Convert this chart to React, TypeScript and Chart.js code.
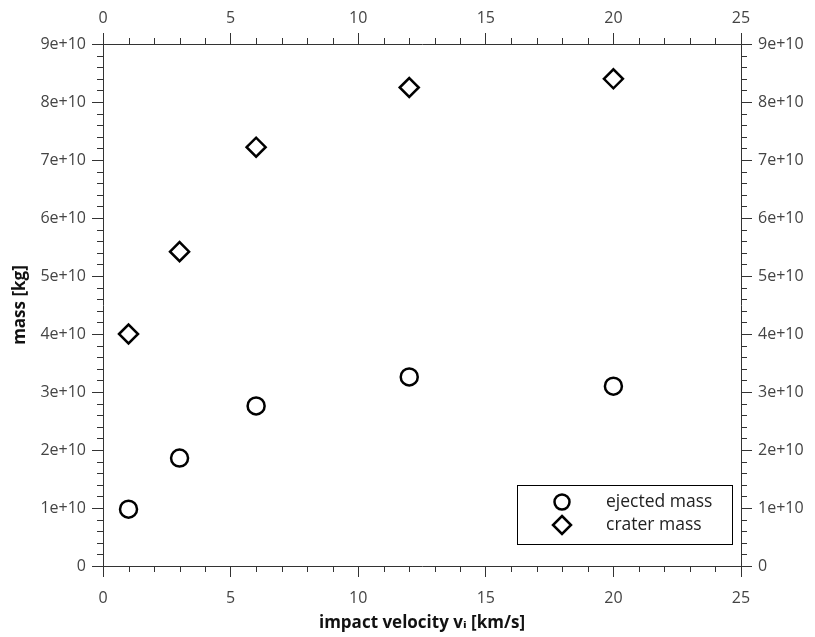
import React, { useEffect, useRef } from "react";
import { Chart, registerables } from "chart.js";

Chart.register(...registerables);

const velocities = [1, 3, 6, 12, 20];
const ejectedMass = [0.98e10, 1.86e10, 2.76e10, 3.26e10, 3.1e10];
const craterMass = [4.0e10, 5.42e10, 7.22e10, 8.25e10, 8.4e10];
const seriesLabels = ["ejected mass", "crater mass"];
const xTitle = "impact velocity vᵢ [km/s]";
const yTitle = "mass [kg]";

const X_MIN = 0, X_MAX = 25, X_STEP = 5, X_MINOR = 1;
const Y_MIN = 0, Y_MAX = 9e10, Y_STEP = 1e10, Y_MINOR = 2e9;

const FONT = "'Open Sans', 'DejaVu Sans', sans-serif";
const AXIS_COLOR = "#333";
const LABEL_COLOR = "#444";

const fmtY = (v: number) => {
  if (v === 0) return "0";
  const e = Math.floor(Math.log10(Math.abs(v)) + 1e-9);
  const m = Math.round((v / Math.pow(10, e)) * 100) / 100;
  return `${m}e+${e}`;
};

const minorTicks = {
  id: "minorTicks",
  afterDraw(chart: any) {
    const { ctx, chartArea } = chart;
    const len = 6;
    ctx.save();
    ctx.strokeStyle = AXIS_COLOR;
    ctx.lineWidth = 1;
    ctx.beginPath();
    const xs = chart.scales.x;
    for (let v = X_MIN; v <= X_MAX + 1e-9; v += X_MINOR) {
      if (Math.abs(v / X_STEP - Math.round(v / X_STEP)) < 1e-6) continue;
      const px = Math.round(xs.getPixelForValue(v)) + 0.5;
      ctx.moveTo(px, chartArea.bottom);
      ctx.lineTo(px, chartArea.bottom + len);
      ctx.moveTo(px, chartArea.top);
      ctx.lineTo(px, chartArea.top - len);
    }
    const ys = chart.scales.y;
    for (let v = Y_MIN; v <= Y_MAX + 1; v += Y_MINOR) {
      if (Math.abs(v / Y_STEP - Math.round(v / Y_STEP)) < 1e-6) continue;
      const py = Math.round(ys.getPixelForValue(v)) + 0.5;
      ctx.moveTo(chartArea.left, py);
      ctx.lineTo(chartArea.left - len, py);
      ctx.moveTo(chartArea.right, py);
      ctx.lineTo(chartArea.right + len, py);
    }
    ctx.stroke();
    ctx.restore();
  },
};

const boxLegend = {
  id: "boxLegend",
  afterDraw(chart: any) {
    const { ctx, chartArea } = chart;
    const boxW = 215, boxH = 59;
    const bx = chartArea.right - 9 - boxW;
    const by = chartArea.bottom - 22 - boxH;
    ctx.save();
    ctx.strokeStyle = "#000";
    ctx.lineWidth = 1;
    ctx.strokeRect(Math.round(bx) + 0.5, Math.round(by) + 0.5, boxW, boxH);
    ctx.font = `17.5px ${FONT}`;
    ctx.fillStyle = "#222";
    ctx.textBaseline = "middle";
    chart.data.datasets.forEach((ds: any, i: number) => {
      const cy = by + 17 + i * 23;
      const cx = bx + 45;
      ctx.strokeStyle = ds.borderColor;
      ctx.lineWidth = ds.borderWidth;
      ctx.beginPath();
      if (ds.pointStyle === "circle") {
        ctx.arc(cx, cy, 7.5, 0, Math.PI * 2);
      } else {
        const r = 9;
        ctx.moveTo(cx, cy - r);
        ctx.lineTo(cx + r, cy);
        ctx.lineTo(cx, cy + r);
        ctx.lineTo(cx - r, cy);
        ctx.closePath();
      }
      ctx.stroke();
      ctx.fillText(ds.label, bx + 89, cy);
    });
    ctx.restore();
  },
};

export default function App() {
  const ref = useRef<HTMLCanvasElement>(null);
  useEffect(() => {
    if (!ref.current) return;
    const tickFont = { family: FONT, size: 16 };
    const titleFont = { family: FONT, size: 17, weight: "bold" as const };
    const majorGrid = {
      display: true,
      drawOnChartArea: false,
      drawTicks: true,
      tickLength: 11,
      color: AXIS_COLOR,
      tickColor: AXIS_COLOR,
    };
    const border = { display: true, color: AXIS_COLOR, width: 1 };
    const chart = new Chart(ref.current, {
      type: "scatter",
      data: {
        datasets: [
          {
            label: seriesLabels[0],
            data: velocities.map((v, i) => ({ x: v, y: ejectedMass[i] })),
            pointStyle: "circle",
            pointRadius: 8.5,
            pointHoverRadius: 8.5,
            borderColor: "#000",
            backgroundColor: "rgba(0,0,0,0)",
            borderWidth: 2.5,
            pointBorderWidth: 2.5,
          },
          {
            label: seriesLabels[1],
            data: velocities.map((v, i) => ({ x: v, y: craterMass[i] })),
            pointStyle: "rectRot",
            pointRadius: 9.5,
            pointHoverRadius: 9.5,
            borderColor: "#000",
            backgroundColor: "rgba(0,0,0,0)",
            borderWidth: 2.5,
            pointBorderWidth: 2.5,
          },
        ],
      },
      options: {
        responsive: false,
        animation: false,
        layout: { padding: 0 },
        plugins: { legend: { display: false }, tooltip: { enabled: false } },
        scales: {
          x: {
            type: "linear",
            position: "bottom",
            min: X_MIN,
            max: X_MAX,
            ticks: { stepSize: X_STEP, font: tickFont, color: LABEL_COLOR, padding: 12, maxRotation: 0 },
            grid: majorGrid,
            border,
            title: { display: true, text: xTitle, font: titleFont, color: "#111", padding: { top: 0, bottom: 4 } },
            afterFit: (s: any) => { s.height = 71; },
          },
          x2: {
            type: "linear",
            position: "top",
            min: X_MIN,
            max: X_MAX,
            ticks: { stepSize: X_STEP, font: tickFont, color: LABEL_COLOR, padding: 5, maxRotation: 0 },
            grid: majorGrid,
            border,
            afterFit: (s: any) => { s.height = 44; },
          },
          y: {
            type: "linear",
            position: "left",
            min: Y_MIN,
            max: Y_MAX,
            ticks: { stepSize: Y_STEP, font: tickFont, color: LABEL_COLOR, padding: 6, callback: (v: any) => fmtY(Number(v)) },
            grid: majorGrid,
            border,
            title: { display: true, text: yTitle, font: titleFont, color: "#111", padding: { top: 10, bottom: 0 } },
            afterFit: (s: any) => { s.width = 103; },
          },
          y2: {
            type: "linear",
            position: "right",
            min: Y_MIN,
            max: Y_MAX,
            ticks: { stepSize: Y_STEP, font: tickFont, color: LABEL_COLOR, padding: 6, callback: (v: any) => fmtY(Number(v)) },
            grid: majorGrid,
            border,
            afterFit: (s: any) => { s.width = 74; },
          },
        },
      },
      plugins: [minorTicks, boxLegend],
    } as any);
    return () => chart.destroy();
  }, []);
  return (
    <div style={{ position: "absolute", left: 0, top: 0, width: 815, height: 637, background: "#fff" }}>
      <canvas ref={ref} width={815} height={637} style={{ display: "block" }} />
    </div>
  );
}
